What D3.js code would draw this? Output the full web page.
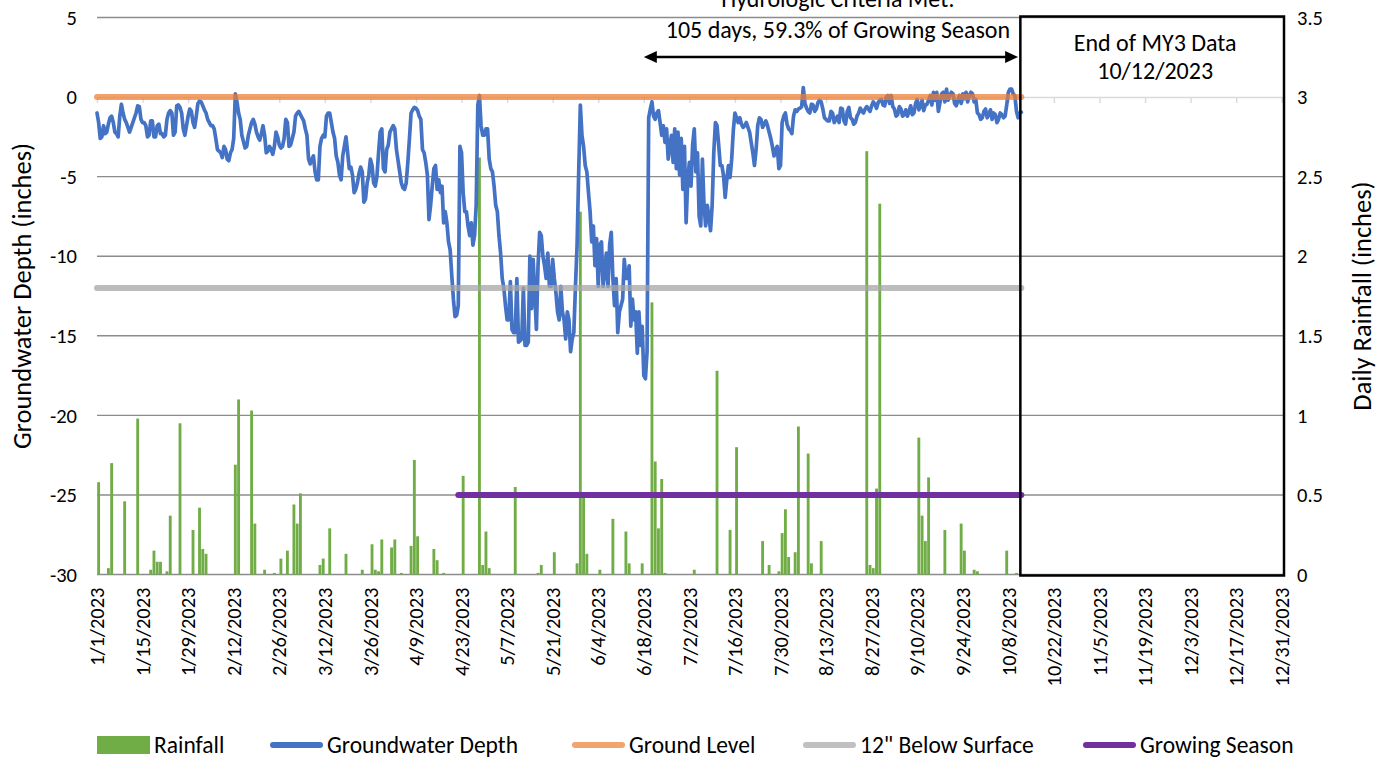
<!DOCTYPE html>
<html>
<head>
<meta charset="utf-8">
<script src="https://cdn.jsdelivr.net/npm/d3@7"></script>
<style>
  html, body { margin: 0; padding: 0; background: #fff; }
  svg { display: block; font-family: Carlito, Calibri, Lato, "Open Sans", sans-serif; }
</style>
</head>
<body>
<svg id="chart" width="1390" height="760"></svg>
<script>
// ---- data -------------------------------------------------------------
// Groundwater depth (inches relative to ground surface): midnight and noon readings per day from gwStart
const gwStart = "2023-01-01";
const gwDepth = [
  -1.0,-2.6,-1.8,-2.2,-1.3,-1.6,-2.3,-1.2,-1.0,-1.6,
  -2.2,-1.6,-1.0,-0.6,-1.6,-1.8,-2.4,-1.5,-2.5,-1.7,
  -2.3,-2.4,-1.0,-1.0,-2.2,-0.5,-1.0,-2.4,-1.2,-0.9,
  -1.9,-0.4,-0.3,-0.8,-1.4,-1.8,-2.0,-3.3,-3.5,-3.1,
  -3.9,-3.5,-2.6,-0.3,-1.4,-2.8,-3.1,-2.0,-1.4,-2.2,
  -2.7,-1.8,-3.5,-3.1,-3.6,-2.2,-3.0,-3.1,-1.4,-3.1,
  -2.6,-1.2,-0.9,-1.3,-2.0,-3.9,-3.9,-4.7,-5.2,-2.6,
  -2.5,-1.0,-1.6,-2.6,-4.1,-5.2,-3.1,-3.5,-4.4,-6.0,
  -5.4,-4.4,-6.6,-5.4,-3.9,-5.4,-5.0,-2.2,-4.5,-3.3,
  -2.2,-1.8,-3.3,-4.7,-5.7,-5.4,-2.6,-0.8,-0.7,-1.2,
  -3.3,-4.1,-7.7,-5.6,-4.3,-5.2,-5.6,-7.2,-9.1,-11.2,
  -13.8,-13.1,-3.5,-7.2,-8.1,-7.9,-8.7,-0.5,-1.8,-2.4,
  -2.0,-4.5,-5.6,-7.2,-9.8,-12.0,-14.0,-11.6,-14.8,-11.4,
  -15.3,-12.0,-15.6,-10.0,-10.2,-14.6,-8.5,-10.0,-11.4,-11.9,
  -10.2,-12.3,-14.0,-13.5,-15.2,-14.0,-15.2,-11.9,-4.7,-2.4,
  -4.3,-6.0,-9.1,-10.6,-11.9,-9.1,-11.0,-11.9,-8.5,-13.1,
  -14.8,-13.1,-10.2,-11.4,-14.4,-14.0,-16.1,-15.6,-17.5,-16.0,
  -0.75,-1.2,-1.0,-1.6,-1.8,-2.0,-3.1,-4.1,-4.5,-4.9,
  -5.8,-7.9,-4.1,-3.0,-4.7,-7.5,-3.9,-8.1,-7.5,-6.8,
  -1.6,-3.0,-4.3,-6.3,-4.3,-3.9,-1.0,-1.6,-1.7,-1.8,
  -1.9,-2.85,-4.3,-1.8,-1.4,-1.7,-1.8,-2.6,-3.7,-3.1,
  -4.3,-1.2,-1.7,-2.1,-1.2,-0.9,-0.7,0.6,-0.7,-1.0,
  -0.5,-0.75,-0.2,-0.75,-1.4,-1.5,-1.0,-1.4,-1.6,-0.75,
  -1.7,-0.65,-1.4,-1.6,-1.0,-0.9,-0.75,-0.75,-0.55,-0.45,
  -0.35,-0.15,-0.55,0.1,0.1,-0.75,-1.1,-0.75,-1.1,-1.2,
  -0.55,-1.0,-0.15,-0.55,-0.85,-0.45,0.1,0.3,0.3,-0.35,
  0.3,0.5,0.1,0.2,-0.55,0.1,0.2,0.3,0.1,0.2,
  -0.15,-1.1,-1.3,-0.75,-1.1,-1.4,-1.1,-1.4,-1.1,-1.2,
  0.3,0.5,0.1,-1.3,-0.95
];
const gwDepthNoon = [
  -1.6,-2.5,-2.3,-1.7,-1.2,-2.2,-2.5,-0.45,-1.4,-1.9,
  -1.9,-1.3,-0.55,-1.4,-1.6,-2.5,-1.5,-2.5,-1.8,-2.3,
  -2.5,-1.4,-0.85,-2.4,-0.55,-0.65,-2.0,-1.8,-0.75,-1.6,
  -1.2,-0.25,-0.55,-1.0,-1.6,-1.8,-2.6,-3.4,-3.8,-3.3,
  -4.0,-3.3,0.2,-1.0,-2.4,-3.2,-2.4,-1.6,-1.7,-2.5,
  -2.3,-2.4,-3.4,-3.3,-3.1,-2.5,-3.2,-2.6,-1.6,-3.0,
  -2.2,-1.0,-1.1,-1.5,-2.4,-4.2,-3.7,-5.2,-3.1,-2.4,
  -1.2,-1.0,-2.2,-3.7,-4.9,-3.7,-2.5,-4.5,-4.9,-5.8,
  -4.8,-4.7,-6.4,-4.9,-4.3,-5.6,-3.5,-2.0,-4.7,-3.0,
  -2.0,-2.0,-4.0,-5.4,-5.8,-4.1,-1.0,-0.65,-0.85,-1.4,
  -3.5,-4.9,-6.8,-4.5,-5.8,-6.0,-7.9,-7.9,-9.6,-12.7,
  -13.7,-3.1,-6.0,-7.2,-8.7,-9.3,-6.8,0.1,-2.4,-2.0,
  -3.9,-4.7,-6.8,-8.7,-11.4,-13.1,-14.0,-14.6,-14.8,-15.4,
  -15.2,-15.6,-15.4,-13.3,-12.3,-10.6,-8.7,-10.6,-9.8,-11.9,
  -11.4,-13.5,-11.9,-14.0,-13.5,-16.0,-14.8,-9.3,-0.5,-3.1,
  -4.7,-7.2,-8.1,-8.9,-9.3,-11.9,-9.8,-9.3,-11.4,-11.4,
  -13.5,-12.7,-11.4,-10.6,-12.7,-13.5,-13.5,-14.4,-17.7,-1.3,
  -0.3,-1.4,-0.85,-2.4,-2.85,-3.9,-2.4,-2.0,-2.2,-2.6,
  -3.1,-5.2,-5.6,-2.0,-3.5,-8.1,-6.8,-6.8,-8.4,-3.5,
  -1.8,-4.3,-4.95,-5.2,-5.05,-2.1,-1.3,-1.3,-1.9,-1.6,
  -2.2,-3.5,-3.3,-1.3,-1.9,-1.5,-2.2,-3.1,-3.3,-4.5,
  -1.6,-1.0,-2.0,-2.3,-0.8,-0.75,-0.6,-0.4,-0.9,-0.45,
  -0.9,-0.35,-0.3,-1.3,-1.5,-0.9,-1.6,-1.2,-0.7,-1.5,
  -0.9,-1.3,-1.7,-1.2,-0.7,-1.0,-0.6,-0.9,-0.3,-0.7,
  -0.2,-0.5,0.0,-0.4,-0.6,-1.2,-0.6,-1.2,-0.8,-0.9,
  -1.1,-0.4,-0.8,-0.2,-0.5,-0.2,-0.5,-0.2,-0.9,0.2,
  -0.3,-0.2,0.3,-0.4,-0.2,-0.4,-0.1,-0.3,0.3,-0.3,
  -1.0,-1.4,-0.9,-1.3,-0.8,-1.0,-1.6,-1.0,-1.3,-0.5,
  0.5,0.2,-0.9,-1.0
];

// Daily rainfall (inches); days not listed had no rain
const rainDates = [
  "2023-01-01","2023-01-04","2023-01-05","2023-01-09","2023-01-13","2023-01-17","2023-01-18","2023-01-19",
  "2023-01-20","2023-01-22","2023-01-23","2023-01-26","2023-01-30","2023-02-01","2023-02-02","2023-02-03",
  "2023-02-12","2023-02-13","2023-02-17","2023-02-18","2023-02-21","2023-02-24","2023-02-26","2023-02-28",
  "2023-03-02","2023-03-03","2023-03-04","2023-03-10","2023-03-11","2023-03-13","2023-03-18","2023-03-23",
  "2023-03-26","2023-03-27","2023-03-28","2023-03-29","2023-04-01","2023-04-02","2023-04-04","2023-04-07",
  "2023-04-08","2023-04-09","2023-04-14","2023-04-15","2023-04-17","2023-04-23","2023-04-28","2023-04-29",
  "2023-04-30","2023-05-01","2023-05-09","2023-05-16","2023-05-17","2023-05-21","2023-05-28","2023-05-29",
  "2023-05-30","2023-05-31","2023-06-04","2023-06-08","2023-06-12","2023-06-13","2023-06-17","2023-06-20",
  "2023-06-21","2023-06-22","2023-06-23","2023-06-24","2023-07-03","2023-07-10","2023-07-14","2023-07-16",
  "2023-07-24","2023-07-26","2023-07-29","2023-07-30","2023-07-31","2023-08-01","2023-08-03","2023-08-04",
  "2023-08-07","2023-08-08","2023-08-11","2023-08-25","2023-08-26","2023-08-27","2023-08-28","2023-08-29",
  "2023-09-10","2023-09-11","2023-09-12","2023-09-13","2023-09-18","2023-09-23","2023-09-24","2023-09-27",
  "2023-09-28","2023-10-07","2023-10-10"
];
const rainInches = [
  0.58,0.04,0.70,0.46,0.98,0.03,0.15,0.08,
  0.08,0.02,0.37,0.95,0.28,0.42,0.16,0.13,
  0.69,1.10,1.03,0.32,0.03,0.01,0.10,0.15,
  0.44,0.32,0.51,0.06,0.10,0.29,0.13,0.03,
  0.19,0.03,0.02,0.22,0.17,0.22,0.01,0.18,
  0.72,0.24,0.16,0.09,0.01,0.62,2.62,0.06,
  0.27,0.04,0.55,0.01,0.06,0.14,0.07,2.28,
  0.49,0.13,0.03,0.35,0.27,0.07,0.07,1.71,
  0.71,0.29,0.60,0.01,0.03,1.28,0.28,0.80,
  0.21,0.06,0.02,0.26,0.41,0.11,0.14,0.93,
  0.76,0.07,0.21,2.66,0.06,0.04,0.54,2.33,
  0.86,0.37,0.21,0.61,0.28,0.32,0.15,0.03,
  0.02,0.15,0.01
];

// Reference levels and periods
const dataEnd = "2023-10-12";
const groundLevel = 0;
const belowSurface = -12;
const growingSeason = ["2023-04-22", "2023-10-12"];
const growingSeasonLevel = -25;
const criteriaPeriod = ["2023-06-18", "2023-10-11"];

// Axes
const axisRange = ["2023-01-01", "2024-01-01"];
const depthTicks = [5, 0, -5, -10, -15, -20, -25, -30];
const rainTicks = [0, 0.5, 1, 1.5, 2, 2.5, 3, 3.5];
const dateTickStepDays = 14;

// Text
const criteriaTitle = "Hydrologic Criteria Met:";
const criteriaText = "105 days, 59.3% of Growing Season";
const endNote = ["End of MY3 Data", "10/12/2023"];
const leftTitle = "Groundwater Depth (inches)";
const rightTitle = "Daily Rainfall (inches)";

// ---- chart ------------------------------------------------------------
const parse = d3.utcParse("%Y-%m-%d");
const svg = d3.select("#chart");

const plot = { left: 97, right: 1285, top: 17.5, bottom: 574.5 };
const fs = { tick: 20.5, title: 26.5, note: 24, legend: 23.5 };

const x = d3.scaleUtc()
  .domain(axisRange.map(parse))
  .range([plot.left, plot.right]);
const yDepth = d3.scaleLinear().domain([-30, 5]).range([plot.bottom, plot.top]);
const yRain = d3.scaleLinear().domain([0, 3.5]).range([plot.bottom, plot.top]);

const t0 = parse(axisRange[0]);
const daySlot = x(d3.utcDay.offset(t0, 1)) - x(t0);

const colors = {
  rain: "#70ad47",
  gw: "#4472c4",
  ground: "#ed7d31",
  below: "#a5a5a5",
  season: "#7030a0",
  grid: "#8c8c8c",
  axis: "#d9d9d9",
  text: "#000"
};

// horizontal gridlines (the 0 line is the date axis itself)
svg.append("g").selectAll("line")
  .data(depthTicks.filter(v => v !== 0))
  .join("line")
  .attr("x1", plot.left).attr("x2", plot.right - 1.5)
  .attr("y1", d => yDepth(d)).attr("y2", d => yDepth(d))
  .attr("stroke", colors.grid).attr("stroke-width", 1.4);

// date axis crossing at depth 0, with tick marks
const dateTicks = d3.utcDay.range(t0, parse(axisRange[1]), dateTickStepDays);
const xAxis = svg.append("g")
  .attr("transform", `translate(0,${yDepth(0)})`)
  .call(d3.axisBottom(x).tickValues(dateTicks).tickSize(6).tickSizeOuter(0).tickFormat(""));
xAxis.select(".domain").attr("stroke", colors.axis).attr("stroke-width", 1.4);
xAxis.selectAll(".tick line").attr("stroke", colors.axis).attr("stroke-width", 1.4);

// date labels along the bottom
const fmt = d3.utcFormat("%-m/%-d/%Y");
svg.append("g").selectAll("text")
  .data(dateTicks)
  .join("text")
  .attr("transform", d => `translate(${x(d)},${plot.bottom + 13}) rotate(-90)`)
  .attr("text-anchor", "end")
  .attr("dy", "0.35em")
  .attr("font-size", fs.tick)
  .attr("fill", colors.text)
  .text(d => fmt(d));

// left axis labels
svg.append("g").selectAll("text")
  .data(depthTicks)
  .join("text")
  .attr("x", 77).attr("y", d => yDepth(d))
  .attr("dy", "0.35em")
  .attr("text-anchor", "end")
  .attr("font-size", fs.tick)
  .attr("fill", colors.text)
  .text(d => String(d));

// right axis labels
svg.append("g").selectAll("text")
  .data(rainTicks)
  .join("text")
  .attr("x", 1297).attr("y", d => yRain(d))
  .attr("dy", "0.35em")
  .attr("text-anchor", "start")
  .attr("font-size", fs.tick)
  .attr("fill", colors.text)
  .text(d => String(d));

// axis titles
svg.append("text")
  .attr("transform", `translate(22,${(plot.top + plot.bottom) / 2}) rotate(-90)`)
  .attr("text-anchor", "middle").attr("dy", "0.35em")
  .attr("font-size", fs.title).attr("fill", colors.text)
  .text(leftTitle);
svg.append("text")
  .attr("transform", `translate(1362,${(plot.top + plot.bottom) / 2}) rotate(-90)`)
  .attr("text-anchor", "middle").attr("dy", "0.35em")
  .attr("font-size", fs.title).attr("fill", colors.text)
  .text(rightTitle);

// rainfall columns
const rain = rainDates.map((d, i) => ({ date: parse(d), value: rainInches[i] }));
const barW = daySlot * 0.88;
svg.append("g").selectAll("rect")
  .data(rain)
  .join("rect")
  .attr("x", d => x(d.date) + daySlot / 2 - barW / 2)
  .attr("width", barW)
  .attr("y", d => yRain(d.value))
  .attr("height", d => yRain(0) - yRain(d.value))
  .attr("fill", colors.rain);

// groundwater depth line (midnight and noon readings interleaved)
const gw0 = parse(gwStart);
const gw = [];
gwDepth.forEach((v, i) => {
  const day = d3.utcDay.offset(gw0, i);
  gw.push({ date: day, value: v });
  if (i < gwDepthNoon.length) gw.push({ date: d3.utcHour.offset(day, 12), value: gwDepthNoon[i] });
});
const lineGen = d3.line().x(d => x(d.date)).y(d => yDepth(d.value));
svg.append("path")
  .datum(gw)
  .attr("d", lineGen)
  .attr("fill", "none")
  .attr("stroke", colors.gw)
  .attr("stroke-width", 3.7)
  .attr("stroke-linejoin", "round")
  .attr("stroke-linecap", "round");

// reference level lines
function levelLine(from, to, level, color, opacity) {
  svg.append("path")
    .datum([{ date: parse(from), value: level }, { date: parse(to), value: level }])
    .attr("d", lineGen)
    .attr("fill", "none")
    .attr("stroke", color)
    .attr("stroke-opacity", opacity)
    .attr("stroke-width", 6)
    .attr("stroke-linecap", "round");
}
levelLine(gwStart, dataEnd, groundLevel, colors.ground, 0.72);
levelLine(gwStart, dataEnd, belowSurface, colors.below, 0.75);
levelLine(growingSeason[0], growingSeason[1], growingSeasonLevel, colors.season, 1);

// end-of-data box
const boxX = x(parse(dataEnd)) - 1;
svg.append("rect")
  .attr("x", boxX).attr("y", plot.top - 1)
  .attr("width", plot.right - 1 - boxX).attr("height", plot.bottom - plot.top + 2)
  .attr("fill", "none").attr("stroke", "#000").attr("stroke-width", 2.5);
const boxCx = (boxX + plot.right - 1) / 2 + 3;
svg.append("text").attr("x", boxCx).attr("y", 51)
  .attr("text-anchor", "middle").attr("font-size", fs.note).attr("fill", colors.text)
  .text(endNote[0]);
svg.append("text").attr("x", boxCx).attr("y", 79)
  .attr("text-anchor", "middle").attr("font-size", fs.note).attr("fill", colors.text)
  .text(endNote[1]);

// criteria annotation with double-headed arrow
const ax1 = x(parse(criteriaPeriod[0])), ax2 = x(parse(criteriaPeriod[1]));
const ay = 57, head = 13, half = 6;
svg.append("line")
  .attr("x1", ax1 + head - 2).attr("x2", ax2 - head + 2)
  .attr("y1", ay).attr("y2", ay)
  .attr("stroke", "#000").attr("stroke-width", 2.5);
svg.append("path")
  .attr("d", `M${ax1},${ay} L${ax1 + head},${ay - half} L${ax1 + head},${ay + half} Z`)
  .attr("fill", "#000");
svg.append("path")
  .attr("d", `M${ax2},${ay} L${ax2 - head},${ay - half} L${ax2 - head},${ay + half} Z`)
  .attr("fill", "#000");
const acx = (ax1 + ax2) / 2 + 7;
svg.append("text").attr("x", acx).attr("y", 7)
  .attr("text-anchor", "middle").attr("font-size", fs.note).attr("fill", colors.text)
  .text(criteriaTitle);
svg.append("text").attr("x", acx).attr("y", 38)
  .attr("text-anchor", "middle").attr("font-size", fs.note).attr("fill", colors.text)
  .text(criteriaText);

// legend
const legendItems = [
  { label: "Rainfall", color: colors.rain, kind: "box", x: 97 },
  { label: "Groundwater Depth", color: colors.gw, kind: "line", x: 270 },
  { label: "Ground Level", color: "#f2a46f", kind: "line", x: 572 },
  { label: "12\" Below Surface", color: "#c0c0c0", kind: "line", x: 803 },
  { label: "Growing Season", color: colors.season, kind: "line", x: 1083 }
];
const ly = 745;
const lg = svg.append("g");
legendItems.forEach(it => {
  if (it.kind === "box") {
    lg.append("rect").attr("x", it.x).attr("y", ly - 9).attr("width", 53).attr("height", 18)
      .attr("fill", it.color);
  } else {
    lg.append("line").attr("x1", it.x + 3).attr("x2", it.x + 50).attr("y1", ly).attr("y2", ly)
      .attr("stroke", it.color).attr("stroke-width", 6).attr("stroke-linecap", "round");
  }
  lg.append("text").attr("x", it.x + 57).attr("y", ly).attr("dy", "0.35em")
    .attr("font-size", fs.legend).attr("fill", colors.text).text(it.label);
});
</script>
</body>
</html>
